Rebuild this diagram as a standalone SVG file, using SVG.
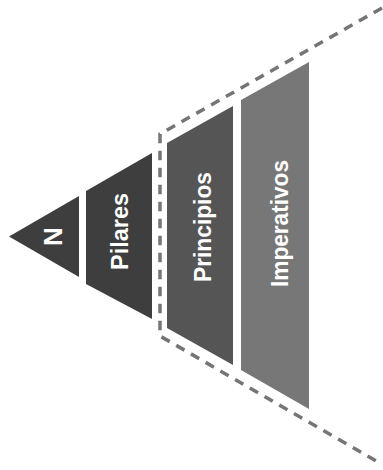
<svg xmlns="http://www.w3.org/2000/svg" width="383" height="470" viewBox="0 0 383 470">
<style>
.lbl{font-family:"Liberation Sans",Arial,sans-serif;font-weight:bold;fill:#ffffff;text-anchor:middle}
.dash{fill:none;stroke:#757575;stroke-width:3.5;stroke-dasharray:9.5 7.5}
</style>
<rect width="383" height="470" fill="#ffffff"/>
<g id="connectors">
<path class="dash" d="M382,8 L160,134 L160,336 L378,462"/>
</g>
<g id="node-n">
<polygon points="9,236.5 79,196 79,277" fill="#3e3e3e"/>
<text class="lbl" font-size="26" transform="translate(62,236.5) rotate(-90)">N</text>
</g>
<g id="node-pilares">
<polygon points="86,191 152,153 152,319 86,284" fill="#3e3e3e"/>
<text class="lbl" font-size="23" textLength="77" lengthAdjust="spacingAndGlyphs" transform="translate(127.5,231.5) rotate(-90)">Pilares</text>
</g>
<g id="node-principios">
<polygon points="167,143 233,106 233,365 167,328" fill="#555555"/>
<text class="lbl" font-size="23" textLength="110" lengthAdjust="spacingAndGlyphs" transform="translate(210.5,227) rotate(-90)">Principios</text>
</g>
<g id="node-imperativos">
<polygon points="241,100 309,62 309,409 241,370" fill="#777777"/>
<text class="lbl" font-size="23" textLength="127" lengthAdjust="spacingAndGlyphs" transform="translate(287.5,223.5) rotate(-90)">Imperativos</text>
</g>
</svg>
